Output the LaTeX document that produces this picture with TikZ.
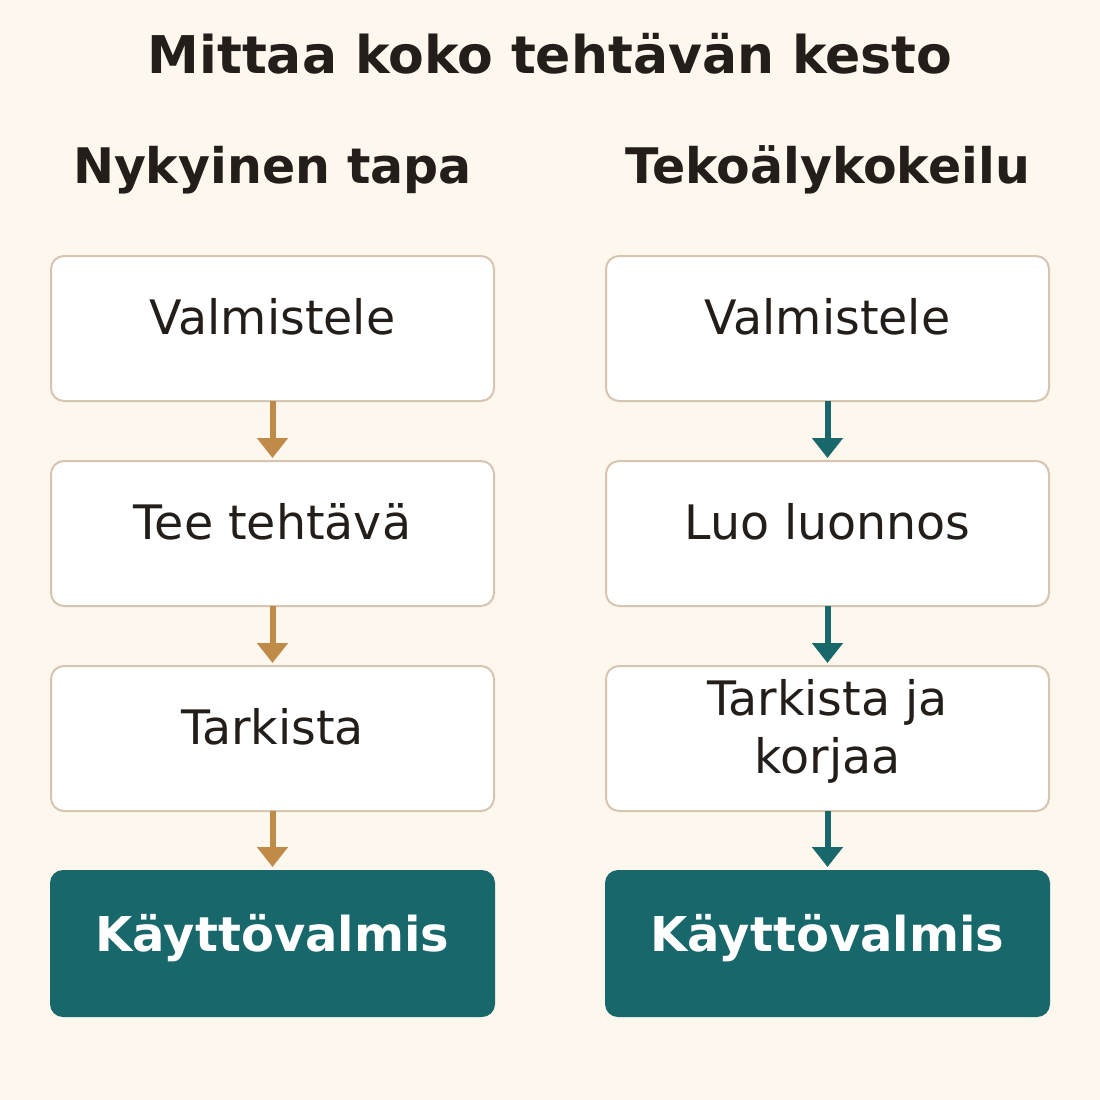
\documentclass[tikz,border=0pt]{standalone}
\usepackage{fontspec}
\setmainfont{DejaVu Sans}
\usetikzlibrary{calc,arrows.meta}
\definecolor{bg}{HTML}{FEF7EE}
\definecolor{bordc}{HTML}{D5C5B1}
\definecolor{brownc}{HTML}{C08A48}
\definecolor{tealc}{HTML}{17676B}
\definecolor{inkc}{HTML}{231E1A}
\tikzset{
  stepbox/.style={draw=bordc, line width=2pt, fill=white, rounded corners=13pt,
    minimum width=443pt, minimum height=145pt, inner sep=0pt, outer sep=0pt, anchor=north west},
  donebox/.style={fill=tealc, rounded corners=13pt,
    minimum width=445pt, minimum height=147pt, inner sep=0pt, outer sep=0pt, anchor=north west},
  lbl/.style={text=inkc, inner sep=0pt, font=\fontsize{47.5}{58}\selectfont, align=center},
  donelbl/.style={text=white, inner sep=0pt, font=\fontsize{48}{58}\selectfont\bfseries},
  headlbl/.style={text=inkc, inner sep=0pt, font=\fontsize{49}{58}\selectfont\bfseries},
  titlelbl/.style={text=inkc, inner sep=0pt, font=\fontsize{52}{62}\selectfont\bfseries},
  flowarrow/.style={line width=6pt, -{Triangle[width=30pt,length=20pt]}, shorten >=3pt},
}
\begin{document}
\begin{tikzpicture}[x=1pt,y=-1pt]
\fill[bg] (0,0) rectangle (1100,1100);
\useasboundingbox (0,0) rectangle (1100,1100);

\node[titlelbl, anchor=base] (title) at (550,73) {Mittaa koko tehtävän kesto};
\node[headlbl, anchor=base] (hl) at (272.5,183) {Nykyinen tapa};
\node[headlbl, anchor=base] (hr) at (827.5,183) {Tekoälykokeilu};

% left column
\node[stepbox] (l1) at (51,256) {};
\node[stepbox] (l2) at (51,461) {};
\node[stepbox] (l3) at (51,666) {};
\node[donebox] (l4) at (50,870) {};
% right column
\node[stepbox] (r1) at (606,256) {};
\node[stepbox] (r2) at (606,461) {};
\node[stepbox] (r3) at (606,666) {};
\node[donebox] (r4) at (605,870) {};

\node[lbl, anchor=base] (l1t) at ($(l1.north)+(0,78)$) {Valmistele};
\node[lbl, anchor=base] (l2t) at ($(l2.north)+(0,78)$) {Tee tehtävä};
\node[lbl, anchor=base] (l3t) at ($(l3.north)+(0,78)$) {Tarkista};
\node[donelbl, anchor=base] (l4t) at ($(l4.north)+(0,81)$) {Käyttövalmis};

\node[lbl, anchor=base] (r1t) at ($(r1.north)+(0,78)$) {Valmistele};
\node[lbl, anchor=base] (r2t) at ($(r2.north)+(0,78)$) {Luo luonnos};
\node[lbl, anchor=base] (r3ta) at ($(r3.north)+(0,49)$) {Tarkista ja};
\node[lbl, anchor=base] (r3tb) at ($(r3.north)+(0,107)$) {korjaa};
\node[donelbl, anchor=base] (r4t) at ($(r4.north)+(0,81)$) {Käyttövalmis};

\draw[flowarrow, brownc] (l1.south) -- (l2.north);
\draw[flowarrow, brownc] (l2.south) -- (l3.north);
\draw[flowarrow, brownc] (l3.south) -- (l4.north);
\draw[flowarrow, tealc] (r1.south) -- (r2.north);
\draw[flowarrow, tealc] (r2.south) -- (r3.north);
\draw[flowarrow, tealc] (r3.south) -- (r4.north);
\end{tikzpicture}
\end{document}
